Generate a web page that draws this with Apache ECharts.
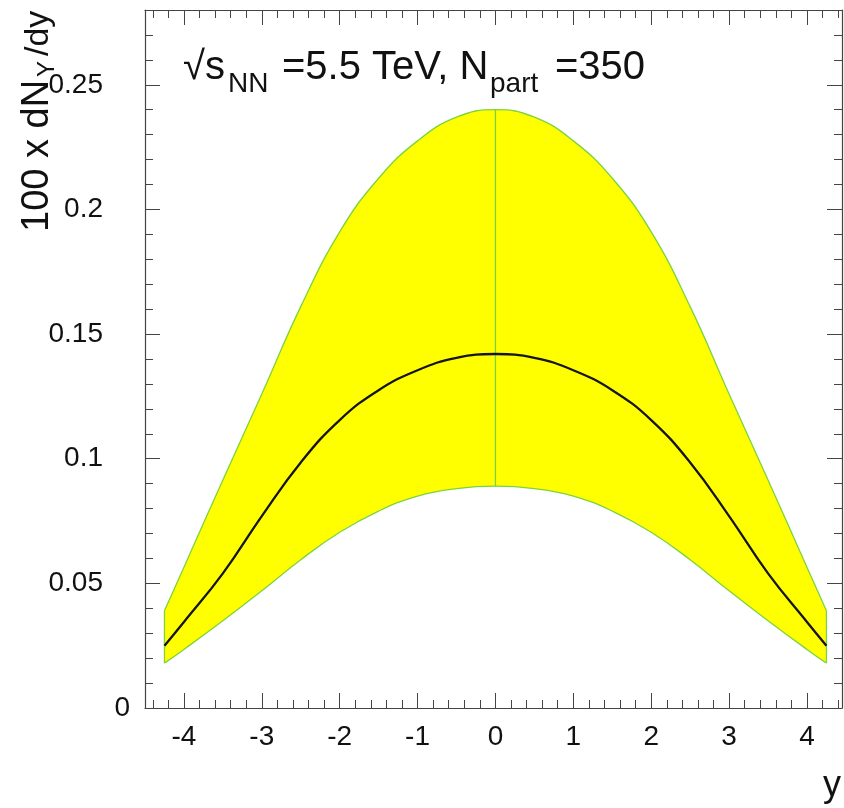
<!DOCTYPE html>
<html>
<head>
<meta charset="utf-8">
<script src="https://cdn.jsdelivr.net/npm/echarts@6/dist/echarts.min.js"></script>
<style>
  html, body { margin: 0; padding: 0; background: #fff; }
  #chart { width: 844px; height: 808px; }
</style>
</head>
<body>
<div id="chart"></div>
<script>
// rapidity points
const rapidity = [-4.25, -4, -3.5, -3, -2.5, -2, -1.5, -1, -0.5, 0, 0.5, 1, 1.5, 2, 2.5, 3, 3.5, 4, 4.25]
// upper / lower edge of the band and central curve
const upper = [0.039, 0.0565, 0.0915, 0.126, 0.161, 0.191, 0.2125, 0.2275, 0.237, 0.240, 0.237, 0.2275, 0.2125, 0.191, 0.161, 0.126, 0.0915, 0.0565, 0.039]
const lower = [0.018, 0.0235, 0.035, 0.047, 0.0595, 0.0705, 0.079, 0.085, 0.088, 0.089, 0.088, 0.085, 0.079, 0.0705, 0.0595, 0.047, 0.035, 0.0235, 0.018]
const central = [0.025, 0.0345, 0.054, 0.077, 0.0985, 0.1155, 0.1275, 0.1355, 0.1405, 0.142, 0.1405, 0.1355, 0.1275, 0.1155, 0.0985, 0.077, 0.054, 0.0345, 0.025]
// where the band is closed by a vertical edge
const edges = [-4.25, 0, 4.25]

const FONT = '"Liberation Sans", Arial, sans-serif'
const AXIS_COLOR = '#444'
const EDGE_GREEN = '#7ed23c'
const SMOOTH = 0.45

const pairs = (vals) => rapidity.map((x, i) => [x, vals[i]])

let chart = echarts.init(document.getElementById('chart'))

//刻度轴（主刻度 / 次刻度 分两个 grid）
function xAx(grid, pos, len, labels, split) {
  return {
    type: 'value', gridIndex: grid, position: pos,
    min: -4.5, max: 4.45, splitNumber: split, z: 5,
    axisLine: { show: grid === 0, onZero: false, lineStyle: { color: AXIS_COLOR, width: 1.2 } },
    axisTick: { inside: true, length: len, lineStyle: { color: AXIS_COLOR, width: 1 } },
    axisLabel: {
      show: labels, showMinLabel: false, showMaxLabel: false,
      fontSize: 28, fontFamily: FONT, color: '#111', margin: 15,
    },
    splitLine: { show: false },
  }
}
function yAx(grid, pos, len, labels, interval) {
  return {
    type: 'value', gridIndex: grid, position: pos,
    min: 0, max: 0.28, interval: interval, z: 5,
    axisLine: { show: grid === 0, onZero: false, lineStyle: { color: AXIS_COLOR, width: 1.2 } },
    axisTick: { inside: true, length: len, lineStyle: { color: AXIS_COLOR, width: 1 } },
    axisLabel: {
      show: labels, showMaxLabel: false,
      fontSize: 28, fontFamily: FONT, color: '#111', margin: 15,
      formatter: (v) => (v === 0 ? '0' : '{p|' + v + '}'),
      rich: { p: { fontSize: 28, fontFamily: FONT, color: '#111', padding: [0, 27, 0, 0] } },
    },
    splitLine: { show: false },
  }
}

const series = [
  {
    // band top, filled down to zero
    type: 'line', data: pairs(upper), smooth: SMOOTH, showSymbol: false, silent: true,
    lineStyle: { color: EDGE_GREEN, width: 1.3 },
    areaStyle: { color: '#ffff00', opacity: 1 },
  },
  {
    // band bottom, blanks the fill below it
    type: 'line', data: pairs(lower), smooth: SMOOTH, showSymbol: false, silent: true,
    lineStyle: { color: EDGE_GREEN, width: 1.3 },
    areaStyle: { color: '#ffffff', opacity: 1 },
  },
]
edges.forEach((x) => {
  const i = rapidity.indexOf(x)
  if (x !== 0) {
    // hide the fill seam under the band ends
    series.push({
      type: 'line', data: [[x, 0], [x, lower[i]]], showSymbol: false, silent: true,
      lineStyle: { color: '#ffffff', width: 3 },
    })
  }
  series.push({
    type: 'line', data: [[x, lower[i]], [x, upper[i]]], showSymbol: false, silent: true,
    lineStyle: { color: EDGE_GREEN, width: 1.3 },
  })
})
series.push({
  type: 'line', data: pairs(central), smooth: SMOOTH, showSymbol: false, silent: true,
  lineStyle: { color: '#151515', width: 2.3 },
})

function txt(x, y, text, size) {
  return {
    type: 'text', x: x, y: y, silent: true,
    style: { text: text, fontSize: size, fontFamily: FONT, fill: '#111', align: 'left', verticalAlign: 'middle' },
  }
}

let option = {
  animation: false,
  backgroundColor: '#fff',
  grid: [
    { left: 145, right: 2, top: 10, bottom: 100 },
    { left: 145, right: 2, top: 10, bottom: 100 },
  ],
  xAxis: [
    xAx(0, 'bottom', 15, true, 9),
    xAx(0, 'top', 15, false, 9),
    xAx(1, 'bottom', 8, false, 45),
    xAx(1, 'top', 8, false, 45),
  ],
  yAxis: [
    yAx(0, 'left', 15, true, 0.05),
    yAx(0, 'right', 15, false, 0.05),
    yAx(1, 'left', 8, false, 0.01),
    yAx(1, 'right', 8, false, 0.01),
  ],
  series: series,
  graphic: [
    txt(183, 68, '√s', 40),
    txt(228, 84, 'NN', 28),
    txt(282, 68, '=5.5 TeV, N', 40),
    txt(490, 84, 'part', 28),
    txt(555, 68, '=350', 40),
    {
      type: 'group', x: 50, y: 232, rotation: Math.PI / 2, silent: true,
      children: [
        txt(0, -12, '100 x dN', 38),
        txt(155, -3, 'Y', 24),
        txt(176, -11, '/dy', 34),
      ],
    },
    {
      type: 'text', x: 841, y: 786, silent: true,
      style: { text: 'y', fontSize: 36, fontFamily: FONT, fill: '#111', align: 'right', verticalAlign: 'middle' },
    },
  ],
}
chart.setOption(option)
</script>
</body>
</html>
